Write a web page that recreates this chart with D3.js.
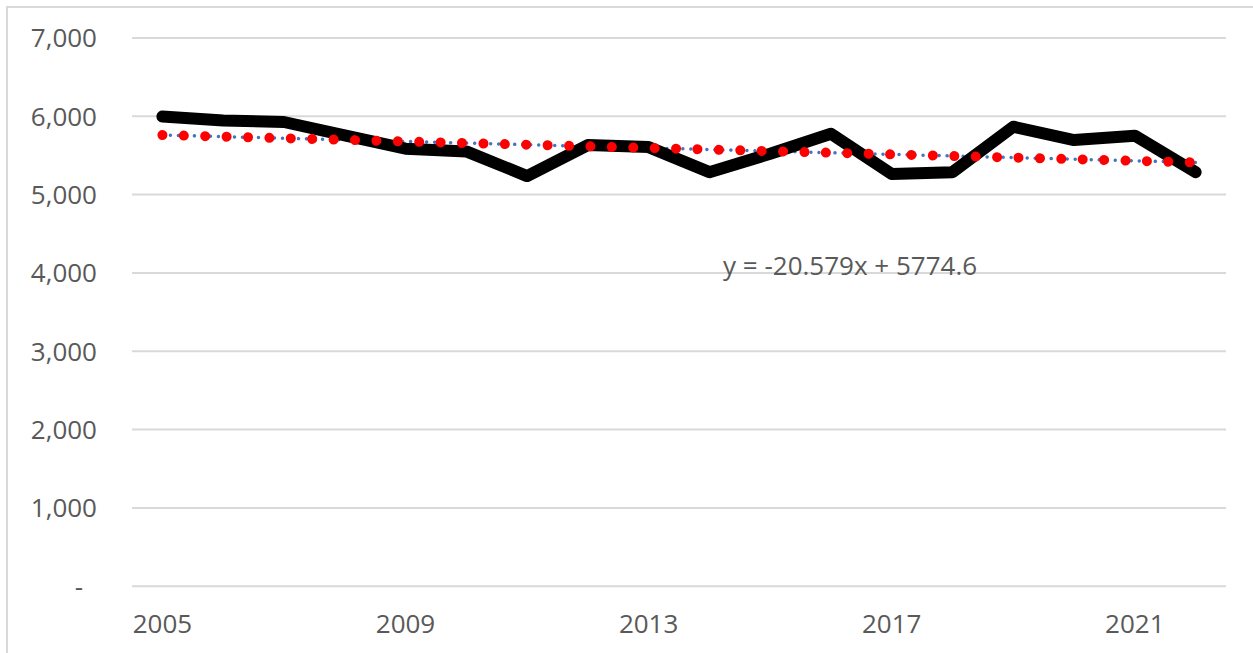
<!DOCTYPE html>
<html>
<head>
<meta charset="utf-8">
<script src="https://cdn.jsdelivr.net/npm/d3@7"></script>
<style>
  body { margin: 0; background: #fff; }
  svg { display: block; }
  .tick text { font-family: "Open Sans", sans-serif; font-size: 26px; fill: #595959; }
</style>
</head>
<body>
<div id="chart"></div>
<script>
// data
var years = [2005, 2006, 2007, 2008, 2009, 2010, 2011, 2012, 2013, 2014, 2015, 2016, 2017, 2018, 2019, 2020, 2021, 2022];
var values = [5990, 5940, 5920, 5750, 5580, 5545, 5230, 5625, 5600, 5280, 5515, 5770, 5255, 5280, 5860, 5690, 5745, 5280];
var yTicks = [0, 1000, 2000, 3000, 4000, 5000, 6000, 7000];
var xTickYears = [2005, 2009, 2013, 2017, 2021];
// trendline as printed on the chart: y = -20.579x + 5774.6 (x = 1..n)
var trendSlope = -20.579, trendIntercept = 5774.6;
var trendLabel = "y = -20.579x + 5774.6";

var width = 1253, height = 653;

var svg = d3.select("#chart").append("svg")
    .attr("width", width)
    .attr("height", height);

// chart area frame
svg.append("rect")
    .attr("x", 7).attr("y", 7)
    .attr("width", width + 20).attr("height", height + 20)
    .attr("fill", "none")
    .attr("stroke", "#d9d9d9")
    .attr("stroke-width", 2);

//scale functions
var xScale = d3.scaleBand()
    .domain(years)
    .range([132, 1226]);
var yScale = d3.scaleLinear()
    .domain([0, 7000])
    .range([585.8, 37.4]);

function xc(yr) { return xScale(yr) + xScale.bandwidth() / 2; }

// gridlines + y labels
var yAxis = d3.axisLeft(yScale)
    .tickValues(yTicks)
    .tickSize(-(1226 - 132))
    .tickPadding(35)
    .tickFormat(function(d) { return d === 0 ? "-" : d3.format(",")(d); });

var gy = svg.append("g")
    .attr("transform", "translate(132,0)")
    .call(yAxis);
gy.select(".domain").remove();
gy.selectAll(".tick line").attr("stroke", "#d9d9d9").attr("stroke-width", 2);
gy.selectAll(".tick text").attr("dy", "0.36em")
    .attr("dx", function(d) { return d === 0 ? -14 : 0; });

// x labels
var xAxis = d3.axisBottom(xScale)
    .tickValues(xTickYears)
    .tickSize(0)
    .tickPadding(29);
var gx = svg.append("g")
    .attr("transform", "translate(0,585.8)")
    .call(xAxis);
gx.select(".domain").remove();

// trendlines
var n = years.length;
var trendLine = d3.line()
    .x(function(d) { return xc(d.year); })
    .y(function(d) { return yScale(d.value); });
var trendPts = [
    {year: years[0], value: trendIntercept + trendSlope * 1},
    {year: years[n - 1], value: trendIntercept + trendSlope * n}
];

svg.append("path")
    .datum(trendPts)
    .attr("d", trendLine)
    .attr("fill", "none")
    .attr("stroke", "#4472c4")
    .attr("stroke-width", 3.5)
    .attr("stroke-linecap", "round")
    .attr("stroke-dasharray", "0.01 8");

// main series
var line = d3.line()
    .x(function(d, i) { return xc(years[i]); })
    .y(function(d) { return yScale(d); });

svg.append("path")
    .datum(values)
    .attr("d", line)
    .attr("fill", "none")
    .attr("stroke", "#000")
    .attr("stroke-width", 12)
    .attr("stroke-linejoin", "round")
    .attr("stroke-linecap", "round");

svg.append("path")
    .datum(trendPts)
    .attr("d", trendLine)
    .attr("fill", "none")
    .attr("stroke", "#ff0000")
    .attr("stroke-width", 10)
    .attr("stroke-linecap", "round")
    .attr("stroke-dasharray", "0.01 21.4");

// equation label
svg.append("text")
    .attr("x", 723)
    .attr("y", 275)
    .attr("font-family", "Open Sans, sans-serif")
    .attr("font-size", 26)
    .attr("fill", "#595959")
    .text(trendLabel);
</script>
</body>
</html>
